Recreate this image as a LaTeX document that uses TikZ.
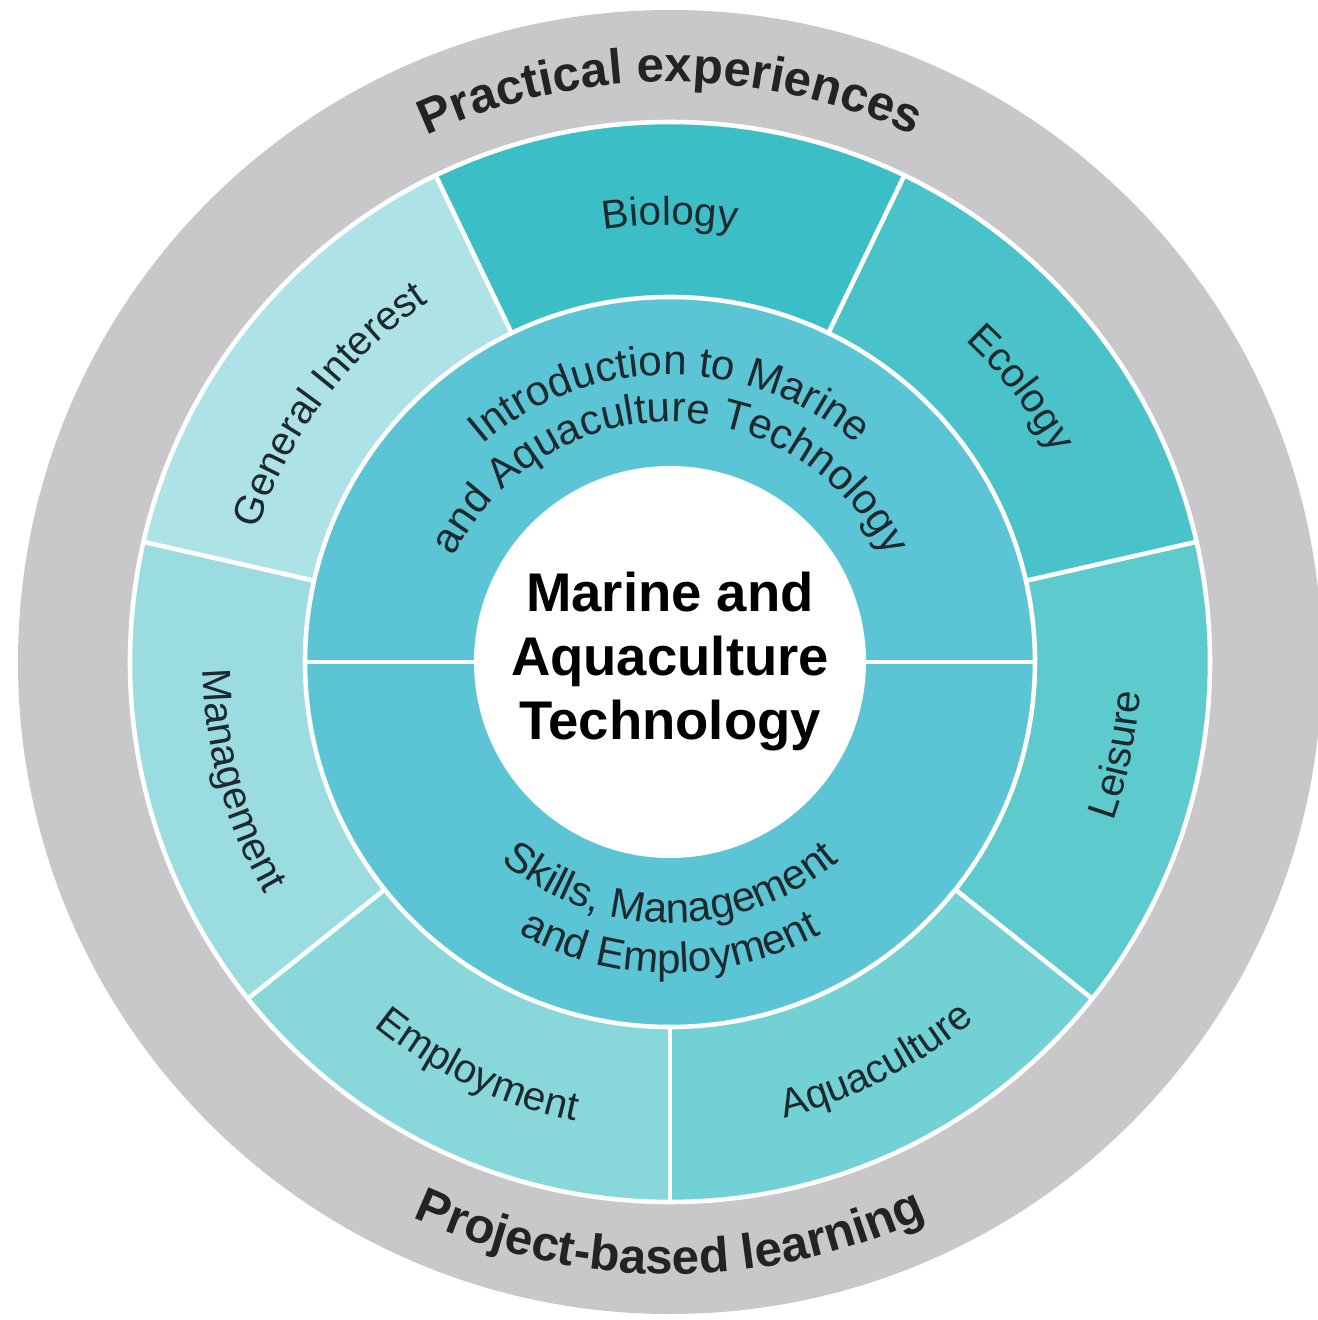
\documentclass[tikz,border=0pt]{standalone}
\usepackage{fontspec}
\setmainfont{Liberation Sans}
\setsansfont{Liberation Sans}
\usetikzlibrary{decorations.text}

\definecolor{ringgrey}{HTML}{C8C8CA}
\definecolor{biocol}{HTML}{3BBEC6}
\definecolor{ecocol}{HTML}{49C3C9}
\definecolor{leicol}{HTML}{5DCACE}
\definecolor{aqucol}{HTML}{72D1D4}
\definecolor{empcol}{HTML}{88D8DB}
\definecolor{mancol}{HTML}{9ADCDF}
\definecolor{gencol}{HTML}{ADE3E6}
\definecolor{introcol}{HTML}{5CC5D5}
\definecolor{labeltext}{HTML}{1C2A2F}
\definecolor{bandtext}{HTML}{232323}

\newcommand{\segfont}{\fontsize{11.5}{13}\selectfont}
\newcommand{\ringfont}{\fontsize{12}{14}\selectfont}
\newcommand{\bandfont}{\fontsize{14}{16}\selectfont\bfseries}

\begin{document}
\begin{tikzpicture}
    \tikzstyle{sep} = [draw=white, line width=1.3pt]
    \tikzstyle{seglabel} = [decorate, decoration={text along path, text align=center, text={|\color{labeltext}\segfont|#1}}]
    \tikzstyle{ringlabel} = [decorate, decoration={text along path, text align=center, text={|\color{labeltext}\ringfont|#1}}]
    \tikzstyle{bandlabel} = [decorate, decoration={text along path, text align=center, text={|\color{bandtext}\bandfont|#1}}]

    \useasboundingbox (-6.70,-6.58) rectangle (6.47,6.62);

    \fill[ringgrey] (0,0) circle (6.52);
    \foreach \k/\col in {0/aqucol, 1/leicol, 2/ecocol, 3/biocol, 4/gencol, 5/mancol, 6/empcol}
        \fill[\col] (0,0) -- ({270+\k*360/7}:5.40) arc[start angle={270+\k*360/7}, delta angle={360/7}, radius=5.40] -- cycle;
    \fill[introcol] (0,0) circle (3.65);
    \fill[white] (0,0) circle (1.96);

    \draw[sep] (0,0) circle (5.40);
    \draw[sep] (0,0) circle (3.65);
    \foreach \k in {0,...,6}
        \draw[sep] ({270+\k*360/7}:3.65) -- ({270+\k*360/7}:5.40);
    \draw[sep] (0:1.96) -- (0:3.65);
    \draw[sep] (180:1.96) -- (180:3.65);

    \node (mat) [align=center, font=\fontsize{15.5}{18.2}\selectfont\bfseries] at (0,0) {Marine and\\Aquaculture\\Technology};

    \path[seglabel=Biology] (130:4.37) arc[start angle=130, end angle=50, radius=4.37];
    \path[seglabel=Ecology] (78:4.36) arc[start angle=78, end angle=-2, radius=4.36];
    \path[seglabel=General Interest] (183:4.33) arc[start angle=183, end angle=103, radius=4.33];
    \path[seglabel=Leisure] (-51.7:4.71) arc[start angle=-51.7, end angle=28.3, radius=4.71];
    \path[seglabel=Aquaculture] (-102.8:4.70) arc[start angle=-102.8, end angle=-22.8, radius=4.70];
    \path[seglabel=Employment] (-155.4:4.69) arc[start angle=-155.4, end angle=-75.4, radius=4.69];
    \path[seglabel=Management] (-204.6:4.67) arc[start angle=-204.6, end angle=-124.6, radius=4.67];

    \path[ringlabel=Introduction to Marine] (170:2.87) arc[start angle=170, end angle=10, radius=2.87];
    \path[ringlabel=and Aquaculture Technology] (178:2.40) arc[start angle=178, end angle=2, radius=2.40];
    \path[ringlabel={Skills, Management}] (190:2.61) arc[start angle=190, end angle=350, radius=2.61];
    \path[ringlabel=and Employment] (190:3.11) arc[start angle=190, end angle=350, radius=3.11];

    \path[bandlabel=Practical experiences] (160:5.80) arc[start angle=160, end angle=20, radius=5.80];
    \path[bandlabel=Project-based learning] (200:6.12) arc[start angle=200, end angle=340, radius=6.12];
\end{tikzpicture}
\end{document}
